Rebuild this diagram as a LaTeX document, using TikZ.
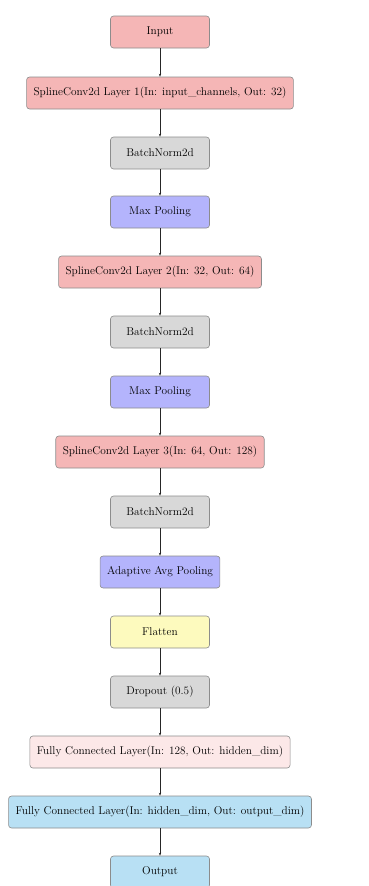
\documentclass[tikz,border=0pt]{standalone}
\usetikzlibrary{arrows.meta}
\definecolor{pinkbox}{RGB}{245,182,182}
\definecolor{graybox}{RGB}{216,216,216}
\definecolor{bluebox}{RGB}{180,180,252}
\definecolor{yellowbox}{RGB}{253,250,190}
\definecolor{lightpink}{RGB}{252,232,232}
\definecolor{skybox}{RGB}{184,224,244}
\tikzset{
  layer/.style={draw=black!45, rounded corners=3pt, minimum width=99pt, minimum height=32pt,
    inner xsep=7pt, font=\fontsize{11.3}{13}\selectfont, line width=0.6pt},
  conn/.style={-{Stealth[length=3pt,width=2.4pt]}, line width=0.6pt, black!85}
}
\begin{document}
\begin{tikzpicture}[x=1pt,y=-1pt]
\useasboundingbox (0,0) rectangle (369,886);
\node[layer, fill=pinkbox] (in) at (160,32) {Input};
\node[layer, fill=pinkbox] (sc1) at (160,93) {SplineConv2d Layer 1(In: input\_channels, Out: 32)};
\node[layer, fill=graybox] (bn1) at (160,153) {BatchNorm2d};
\node[layer, fill=bluebox] (mp1) at (160,212) {Max Pooling};
\node[layer, fill=pinkbox] (sc2) at (160,272) {SplineConv2d Layer 2(In: 32, Out: 64)};
\node[layer, fill=graybox] (bn2) at (160,332) {BatchNorm2d};
\node[layer, fill=bluebox] (mp2) at (160,392) {Max Pooling};
\node[layer, fill=pinkbox] (sc3) at (160,452) {SplineConv2d Layer 3(In: 64, Out: 128)};
\node[layer, fill=graybox] (bn3) at (160,512) {BatchNorm2d};
\node[layer, fill=bluebox] (ap) at (160,572) {Adaptive Avg Pooling};
\node[layer, fill=yellowbox] (fl) at (160,632) {Flatten};
\node[layer, fill=graybox] (dr) at (160,692) {Dropout (0.5)};
\node[layer, fill=lightpink] (fc1) at (160,752) {Fully Connected Layer(In: 128, Out: hidden\_dim)};
\node[layer, fill=skybox] (fc2) at (160,812) {Fully Connected Layer(In: hidden\_dim, Out: output\_dim)};
\node[layer, fill=skybox] (out) at (160,872) {Output};
\foreach \a/\b in {in/sc1, sc1/bn1, bn1/mp1, mp1/sc2, sc2/bn2, bn2/mp2, mp2/sc3, sc3/bn3, bn3/ap, ap/fl, fl/dr, dr/fc1, fc1/fc2, fc2/out}
  \draw[conn] (\a) -- (\b);
\end{tikzpicture}
\end{document}
